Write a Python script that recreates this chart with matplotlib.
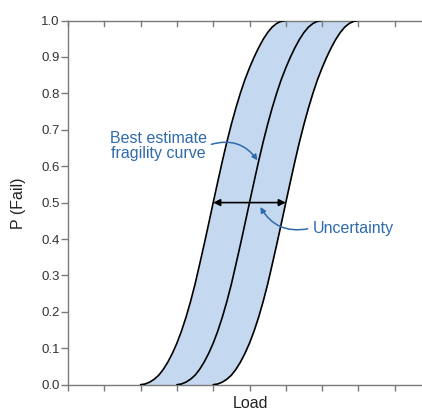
import matplotlib
matplotlib.use("Agg")
import matplotlib.pyplot as plt

plt.rcParams['font.family'] = ['Liberation Sans', 'DejaVu Sans']

# failure probability levels and the load
p_levels = [0.0, 0.002, 0.007, 0.015, 0.026, 0.042, 0.062, 0.086, 0.114, 0.147, 0.185,
            0.228, 0.276, 0.330, 0.385, 0.442, 0.500, 0.557, 0.613, 0.666, 0.715, 0.760,
            0.801, 0.838, 0.870, 0.899, 0.925, 0.948, 0.967, 0.982, 0.992, 0.998, 1.0]
load_lower = [2.0, 2.125, 2.25, 2.375, 2.5, 2.625, 2.75, 2.875, 3.0, 3.125, 3.25,
              3.375, 3.5, 3.625, 3.75, 3.875, 4.0, 4.125, 4.25, 4.375, 4.5, 4.625,
              4.75, 4.875, 5.0, 5.125, 5.25, 5.375, 5.5, 5.625, 5.75, 5.875, 6.0]
load_best = [3.0, 3.125, 3.25, 3.375, 3.5, 3.625, 3.75, 3.875, 4.0, 4.125, 4.25,
             4.375, 4.5, 4.625, 4.75, 4.875, 5.0, 5.125, 5.25, 5.375, 5.5, 5.625,
             5.75, 5.875, 6.0, 6.125, 6.25, 6.375, 6.5, 6.625, 6.75, 6.875, 7.0]
load_upper = [4.0, 4.125, 4.25, 4.375, 4.5, 4.625, 4.75, 4.875, 5.0, 5.125, 5.25,
              5.375, 5.5, 5.625, 5.75, 5.875, 6.0, 6.125, 6.25, 6.375, 6.5, 6.625,
              6.75, 6.875, 7.0, 7.125, 7.25, 7.375, 7.5, 7.625, 7.75, 7.875, 8.0]

x_ticks = [0, 1, 2, 3, 4, 5, 6, 7, 8, 9]
y_ticks = [0.0, 0.1, 0.2, 0.3, 0.4, 0.5, 0.6, 0.7, 0.8, 0.9, 1.0]
y_ticklabels = ['0.0', '0.1', '0.2', '0.3', '0.4', '0.5', '0.6', '0.7', '0.8', '0.9', '1.0']

blue_text = '#2f6aad'
fill_col = '#c4d9ef'
axis_col = '#7a7a7a'

fig = plt.figure(figsize=(4.22, 4.12), dpi=100)
ax = fig.add_axes([68 / 422, 27.3 / 412, 354 / 422, 364.2 / 412])

ax.fill_betweenx(p_levels, load_lower, load_upper, color=fill_col, lw=0, zorder=1)
for xs in (load_lower, load_best, load_upper):
    ax.plot(xs, p_levels, color='black', lw=1.2, zorder=3, solid_capstyle='round')

ax.set_xlim(0, 354 / 36.3)
ax.set_ylim(0, 1)

# spines / ticks
ax.spines['right'].set_visible(False)
for s in ('left', 'bottom', 'top'):
    ax.spines[s].set_color(axis_col)
    ax.spines[s].set_linewidth(1.0)
ax.set_xticks(x_ticks)
ax.set_xticklabels([])
ax.set_yticks(y_ticks)
ax.set_yticklabels(y_ticklabels, fontsize=9.5, color='#333333')
ax.tick_params(axis='y', direction='out', length=5, width=1, color=axis_col, pad=1)
ax.tick_params(axis='x', direction='out', length=4, width=1, color=axis_col)

# inward ticks on the top spine
for xt in x_ticks:
    ax.plot([xt, xt], [1.0, 0.985], color=axis_col, lw=1, zorder=4, clip_on=False)

fig.text(19 / 422, 1 - 203 / 412, 'P (Fail)', rotation=90, fontsize=11.5,
         color='#222222', ha='center', va='center')
fig.text(250 / 422, 1 / 412, 'Load', fontsize=11.5, color='#222222',
         ha='center', va='bottom')

# width arrow at P = 0.5
ax.annotate('', xy=(4.0, 0.5), xytext=(6.0, 0.5),
            arrowprops=dict(arrowstyle='<|-|>', color='black', lw=1.2,
                            mutation_scale=10, shrinkA=0, shrinkB=0), zorder=5)

# labels
ax.text(2.49, 0.655, 'Best estimate\nfragility curve', fontsize=11.5, color=blue_text,
        ha='center', va='center', linespacing=1.0)
ax.annotate('', xy=(5.22, 0.616), xytext=(3.95, 0.66),
            arrowprops=dict(arrowstyle='-|>', color=blue_text, lw=1.1,
                            mutation_scale=8, shrinkA=0, shrinkB=0,
                            connectionstyle='arc3,rad=-0.35'))

ax.text(6.75, 0.428, 'Uncertainty', fontsize=11.5, color=blue_text,
        ha='left', va='center')
ax.annotate('', xy=(5.3, 0.488), xytext=(6.6, 0.428),
            arrowprops=dict(arrowstyle='-|>', color=blue_text, lw=1.1,
                            mutation_scale=8, shrinkA=0, shrinkB=0,
                            connectionstyle='arc3,rad=-0.35'))

fig.savefig('out.png', dpi=100)
